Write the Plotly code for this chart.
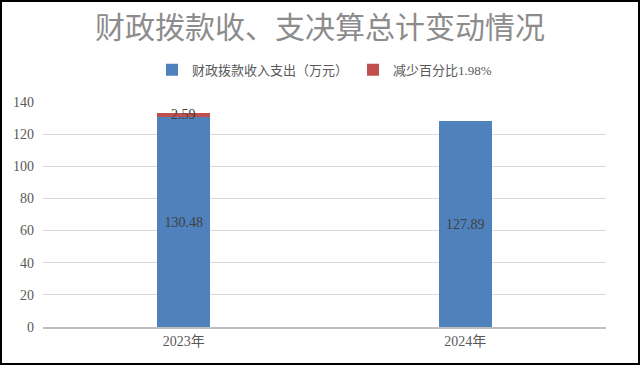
import plotly.graph_objects as go

categories = ["2023年", "2024年"]
spending = [130.48, 127.89]
decrease = [2.59, None]
series_names = ["财政拨款收入支出（万元）", "减少百分比1.98%"]
y_ticks = [0, 20, 40, 60, 80, 100, 120, 140]

serif = "Liberation Serif, 'Noto Sans CJK SC', serif"
cjk = "'Noto Sans CJK SC', Liberation Serif, sans-serif"

fig = go.Figure()
fig.add_trace(go.Bar(
    x=categories, y=spending, name=series_names[0],
    marker=dict(color="#4F81BD", line=dict(width=0)),
    text=[f"{v:.2f}" for v in spending], textposition="inside",
    insidetextanchor="middle",
    textfont=dict(family=serif, size=14, color="#404040"),
))
fig.add_trace(go.Bar(
    x=categories, y=decrease, name=series_names[1],
    marker=dict(color="#C0504D", line=dict(width=0)),
    textposition="none",
))
for c, b, v in zip(categories, spending, decrease):
    if v is not None:
        fig.add_annotation(x=c, y=b + v * 0.7, text=f"{v:.2f}", showarrow=False,
                           font=dict(family=serif, size=14, color="#404040"),
                           yanchor="middle")

fig.update_layout(
    width=640, height=365,
    barmode="stack", bargap=0.81,
    paper_bgcolor="white", plot_bgcolor="white",
    margin=dict(l=43, r=34, t=102, b=38),
    title=dict(text="财政拨款收、支决算总计变动情况", x=0.5, xanchor="center",
               y=0.925, yanchor="middle",
               font=dict(family=cjk, size=30, color="#8C8C8C")),
    legend=dict(orientation="h", x=0.5, xanchor="center", y=1.143, yanchor="middle",
                font=dict(family=serif, size=13, color="#595959"),
                itemwidth=30, traceorder="normal", itemclick=False),
    showlegend=True,
)
fig.update_xaxes(showgrid=False, showline=True, linecolor="#BFBFBF", linewidth=2,
                 ticks="", tickfont=dict(family=serif, size=14, color="#595959"))
fig.update_yaxes(range=[0, 140], tickvals=y_ticks, showgrid=True, gridcolor="#D9D9D9",
                 gridwidth=1, zeroline=False, showline=False, ticks="",
                 ticklabelstandoff=8,
                 tickfont=dict(family=serif, size=14, color="#595959"))

fig.add_shape(type="rect", xref="paper", yref="paper",
              x0=-42/563, x1=1 + 33/563, y0=-37/225, y1=1 + 101/225,
              line=dict(color="black", width=2), layer="above")

fig.write_html("out.html", config={"displayModeBar": False},
               post_script="document.body.style.margin='0';document.body.style.padding='0';")
